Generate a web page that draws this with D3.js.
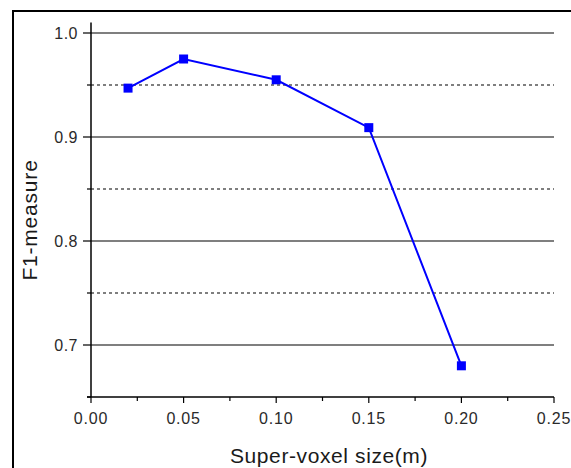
<!DOCTYPE html>
<html><head><meta charset="utf-8">
<script src="https://cdn.jsdelivr.net/npm/d3@7"></script>
<style>body{margin:0;background:#fff;}svg{display:block;}</style>
</head><body>
<script>
const xValues = [0.02, 0.05, 0.10, 0.15, 0.20];
const f1Values = [0.947, 0.975, 0.955, 0.909, 0.680];
const xTicks = [0.00, 0.05, 0.10, 0.15, 0.20, 0.25];
const xMinorTicks = [0.025, 0.075, 0.125, 0.175, 0.225];
const yTicks = [0.7, 0.8, 0.9, 1.0];
const yMinorTicks = [0.65, 0.75, 0.85, 0.95];
const xLabel = "Super-voxel size(m)";
const yLabel = "F1-measure";

const W = 571, H = 468;
const svg = d3.select("body").append("svg").attr("width", W).attr("height", H);

// outer frame
svg.append("rect").attr("x", 13).attr("y", 11).attr("width", W + 20).attr("height", H + 20)
  .attr("fill", "none").attr("stroke", "#000").attr("stroke-width", 2);

const x = d3.scaleLinear().domain([0, 0.25]).range([91, 554]);
const y = d3.scaleLinear().domain([0.7, 1.0]).range([345, 33]);
const yBottom = y(0.65), yTop = y(1.01);

// gridlines
svg.append("g").selectAll("line").data(yTicks).join("line")
  .attr("x1", x(0)).attr("x2", x(0.25))
  .attr("y1", d => y(d)).attr("y2", d => y(d))
  .attr("stroke", "#555").attr("stroke-width", 1.5);
svg.append("g").selectAll("line").data(yMinorTicks.filter(d => d > 0.66)).join("line")
  .attr("x1", x(0)).attr("x2", x(0.25))
  .attr("y1", d => y(d)).attr("y2", d => y(d))
  .attr("stroke", "#555").attr("stroke-width", 1.3).attr("stroke-dasharray", "3,3");

// y axis
const yAxis = svg.append("g").attr("transform", `translate(${x(0)},0)`);
yAxis.append("line").attr("x1", 0).attr("x2", 0).attr("y1", yTop).attr("y2", yBottom)
  .attr("stroke", "#000").attr("stroke-width", 1.5);
yAxis.selectAll("line.maj").data(yTicks).join("line").attr("class", "maj")
  .attr("x1", -8).attr("x2", 0).attr("y1", d => y(d)).attr("y2", d => y(d))
  .attr("stroke", "#000").attr("stroke-width", 1.2);
yAxis.selectAll("line.min").data(yMinorTicks).join("line").attr("class", "min")
  .attr("x1", -4).attr("x2", 0).attr("y1", d => y(d)).attr("y2", d => y(d))
  .attr("stroke", "#000").attr("stroke-width", 1.2);
yAxis.selectAll("text").data(yTicks).join("text")
  .attr("x", -13).attr("y", d => y(d)).attr("dy", "0.35em")
  .attr("text-anchor", "end").attr("font-family", "Arial, Liberation Sans, sans-serif")
  .attr("font-size", 16).attr("letter-spacing", 0.5).attr("fill", "#2a2a2a")
  .text(d => d3.format(".1f")(d));

// x axis
const xAxis = svg.append("g").attr("transform", `translate(0,${yBottom})`);
xAxis.append("line").attr("x1", x(0) - 4).attr("x2", x(0.25)).attr("y1", 0).attr("y2", 0)
  .attr("stroke", "#000").attr("stroke-width", 1.5);
xAxis.selectAll("line.maj").data(xTicks).join("line").attr("class", "maj")
  .attr("x1", d => x(d)).attr("x2", d => x(d)).attr("y1", 0).attr("y2", 6)
  .attr("stroke", "#000").attr("stroke-width", 1.2);
xAxis.selectAll("line.min").data(xMinorTicks).join("line").attr("class", "min")
  .attr("x1", d => x(d)).attr("x2", d => x(d)).attr("y1", 0).attr("y2", 4)
  .attr("stroke", "#000").attr("stroke-width", 1.2);
xAxis.selectAll("text").data(xTicks).join("text")
  .attr("x", d => x(d)).attr("y", 27)
  .attr("text-anchor", "middle").attr("font-family", "Arial, Liberation Sans, sans-serif")
  .attr("font-size", 16).attr("letter-spacing", 0.8).attr("fill", "#2a2a2a")
  .text(d => d3.format(".2f")(d));

// labels
svg.append("text").attr("x", 329).attr("y", 463).attr("text-anchor", "middle")
  .attr("font-family", "Arial, Liberation Sans, sans-serif").attr("font-size", 21)
  .attr("letter-spacing", 0.6).attr("fill", "#1a1a1a")
  .text(xLabel);
svg.append("text").attr("transform", "translate(37,220) rotate(-90)").attr("text-anchor", "middle")
  .attr("font-family", "Arial, Liberation Sans, sans-serif").attr("font-size", 21)
  .attr("letter-spacing", 0.8).attr("fill", "#1a1a1a")
  .text(yLabel);

// data line
const data = xValues.map((v, i) => ({x: v, y: f1Values[i]}));
svg.append("path").datum(data)
  .attr("d", d3.line().x(d => x(d.x)).y(d => y(d.y)))
  .attr("fill", "none").attr("stroke", "#0000ff").attr("stroke-width", 2);
svg.append("g").selectAll("rect").data(data).join("rect")
  .attr("x", d => x(d.x) - 4.5).attr("y", d => y(d.y) - 4.5)
  .attr("width", 9).attr("height", 9).attr("fill", "#0000ff");
</script>
</body></html>
